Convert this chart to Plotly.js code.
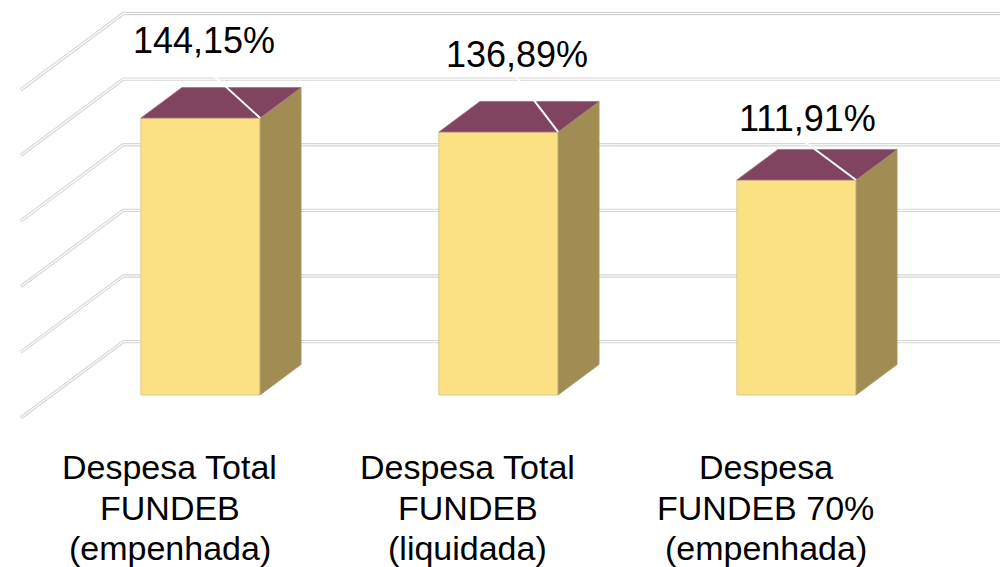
<!DOCTYPE html>
<html>
<head>
<meta charset="utf-8">
<script src="https://cdn.plot.ly/plotly-3.0.1.min.js"></script>
<style>html,body{margin:0;padding:0;background:#fff;}#chart{width:1000px;height:567px;}</style>
</head>
<body>
<div id="chart"></div>
<script>
// ---- data ----
const categories = [
  ['Despesa Total', 'FUNDEB', '(empenhada)'],
  ['Despesa Total', 'FUNDEB', '(liquidada)'],
  ['Despesa', 'FUNDEB 70%', '(empenhada)']
];
const values = [144.15, 136.89, 111.91];
const valueLabels = ['144,15%', '136,89%', '111,91%'];
const gridStep = 34.15;
const gridCount = 5;

// ---- geometry / style ----
const W = 1000, H = 567;
const xRange = [-0.67282, 2.68289];
const yRange = [-89.51, 205.56];
const pxPerX = W / (xRange[1] - xRange[0]);
const pxPerY = H / (yRange[1] - yRange[0]);
const barW = 0.4;
const dX = 41 / pxPerX;      // depth vector (one bar depth)
const dY = 30.5 / pxPerY;
const zBack = 1.75, zFront = -0.75;
const colFront = '#FCE184', colSide = '#A18C53', colTop = '#804360';
const labelShift = [[3.5, 78], [18.5, 77], [10.5, 61]];
const leaderEnd = [[-14, -14], [-7, -14], [-14, -14]];
const catLinePy = [467, 508, 548];

const xs = values.map((v, i) => i);
const traces = [];

// front faces
traces.push({
  type: 'bar', x: xs, y: values, width: barW,
  marker: {color: colFront, line: {color: '#d9c98a', width: 1}},
  hoverinfo: 'skip', showlegend: false
});

values.forEach((v, i) => {
  const l = i - barW / 2, r = i + barW / 2;
  // side face
  traces.push({
    type: 'scatter', mode: 'lines', fill: 'toself', fillcolor: colSide,
    x: [r, r + dX, r + dX, r, r], y: [0, dY, v + dY, v, 0],
    line: {color: '#b3a066', width: 0.8}, hoverinfo: 'skip', showlegend: false
  });
  // top face
  traces.push({
    type: 'scatter', mode: 'lines', fill: 'toself', fillcolor: colTop,
    x: [l, l + dX, r + dX, r, l], y: [v, v + dY, v + dY, v, v],
    line: {color: '#a86f88', width: 0.8}, hoverinfo: 'skip', showlegend: false
  });
});

// leader lines (white) from bar front-right top corner to label
values.forEach((v, i) => {
  const r = i + barW / 2;
  const ex = i + (labelShift[i][0] + leaderEnd[i][0]) / pxPerX;
  const ey = v + (labelShift[i][1] + leaderEnd[i][1]) / pxPerY;
  traces.push({
    type: 'scatter', mode: 'lines', x: [r, ex], y: [v, ey],
    line: {color: '#ffffff', width: 2}, hoverinfo: 'skip', showlegend: false
  });
});

// wall gridlines (shapes, below traces)
const shapes = [];
for (let k = 0; k <= gridCount; k++) {
  const v = k * gridStep;
  const fx = -0.5 + zFront * dX, fy = v + zFront * dY;
  const bx = -0.5 + zBack * dX, by = v + zBack * dY;
  const rx = 2.5 + zBack * dX;
  const path = `M ${fx},${fy} L ${bx},${by} L ${rx},${by}`;
  shapes.push({type: 'path', path, xref: 'x', yref: 'y', layer: 'below',
    line: {color: '#d6d6d6', width: 3.4}});
  shapes.push({type: 'path', path, xref: 'x', yref: 'y', layer: 'below',
    line: {color: '#ffffff', width: 1.2}});
}

// annotations
const annotations = [];
values.forEach((v, i) => {
  annotations.push({
    x: i, y: v, xref: 'x', yref: 'y', text: valueLabels[i], showarrow: false,
    xshift: labelShift[i][0], yshift: labelShift[i][1],
    xanchor: 'center', yanchor: 'middle',
    font: {family: 'Liberation Sans, Arial, sans-serif', size: 36, color: '#000'}
  });
});
categories.forEach((c, i) => {
  c.forEach((line, j) => {
    annotations.push({
      x: i + zFront * dX, y: 1 - catLinePy[j] / H, xref: 'x', yref: 'paper',
      text: line, showarrow: false, align: 'center',
      xanchor: 'center', yanchor: 'middle',
      font: {family: 'Liberation Sans, Arial, sans-serif', size: 34, color: '#000'}
    });
  });
});

const layout = {
  width: W, height: H,
  margin: {l: 0, r: 0, t: 0, b: 0, pad: 0},
  paper_bgcolor: '#ffffff', plot_bgcolor: '#ffffff',
  showlegend: false,
  xaxis: {range: xRange, visible: false, fixedrange: true},
  yaxis: {range: yRange, visible: false, fixedrange: true},
  shapes, annotations
};

Plotly.newPlot('chart', traces, layout, {displayModeBar: false, staticPlot: true});
</script>
</body>
</html>
